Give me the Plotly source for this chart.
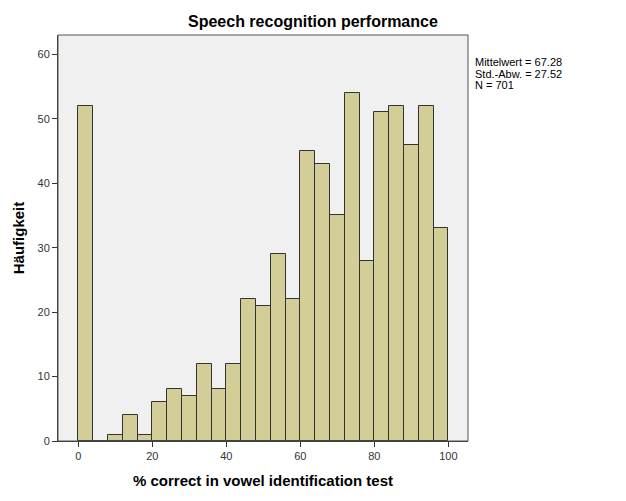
import plotly.graph_objects as go

bin_start = [0, 4, 8, 12, 16, 20, 24, 28, 32, 36, 40, 44, 48, 52, 56, 60, 64, 68, 72, 76, 80, 84, 88, 92, 96]
counts = [52, 0, 1, 4, 1, 6, 8, 7, 12, 8, 12, 22, 21, 29, 22, 45, 43, 35, 54, 28, 51, 52, 46, 52, 33]
bin_width = 4
x_ticks = [0, 20, 40, 60, 80, 100]
y_ticks = [0, 10, 20, 30, 40, 50, 60]
stats_lines = ["Mittelwert = 67.28", "Std.-Abw. = 27.52", "N = 701"]

centers = [s + bin_width / 2 for s in bin_start]

fig = go.Figure()
fig.add_trace(go.Bar(
    x=centers, y=counts, width=[bin_width] * len(counts),
    marker=dict(color="#D3CE97", line=dict(color="#333333", width=1)),
    showlegend=False,
))

font = "Liberation Sans, Arial, sans-serif"
fig.update_layout(
    width=626, height=501,
    margin=dict(l=58, r=158, t=35, b=60),
    paper_bgcolor="white", plot_bgcolor="#F0F0F0",
    bargap=0,
    font=dict(family=font, size=11, color="#333333"),
    xaxis=dict(range=[-5.5, 105.3], tickvals=x_ticks, ticks="outside", ticklen=5,
               tickcolor="#333333", showgrid=False, zeroline=False,
               showline=True, linecolor="#333333", linewidth=1, mirror=False,
               tickfont=dict(size=11, color="#333333"),
               title=dict(text="<b>% correct in vowel identification test</b>",
                          font=dict(size=15, color="black"), standoff=14)),
    yaxis=dict(range=[0, 63], tickvals=y_ticks, ticks="outside", ticklen=5,
               tickcolor="#333333", showgrid=False, zeroline=False,
               showline=True, linecolor="#333333", linewidth=1,
               tickfont=dict(size=11, color="#333333"),
               title=dict(text="<b>Häufigkeit</b>", font=dict(size=15, color="black"), standoff=9)),
    shapes=[dict(type="rect", xref="paper", yref="paper", x0=0, y0=0, x1=1, y1=1,
                 line=dict(color="#555555", width=1), fillcolor="rgba(0,0,0,0)", layer="above")],
)

fig.add_annotation(text="<b>Speech recognition performance</b>", xref="paper", yref="paper",
                   x=0.622, y=1, yshift=3, xanchor="center", yanchor="bottom", showarrow=False,
                   font=dict(size=16, color="black", family=font))
for i, line in enumerate(stats_lines):
    fig.add_annotation(text=line, xref="paper", yref="paper",
                       x=1, xshift=5, y=1, yshift=-(27 + 11.5 * i), xanchor="left", yanchor="middle",
                       align="left", showarrow=False, font=dict(size=11, color="black", family=font))

fig.write_html("out.html")
